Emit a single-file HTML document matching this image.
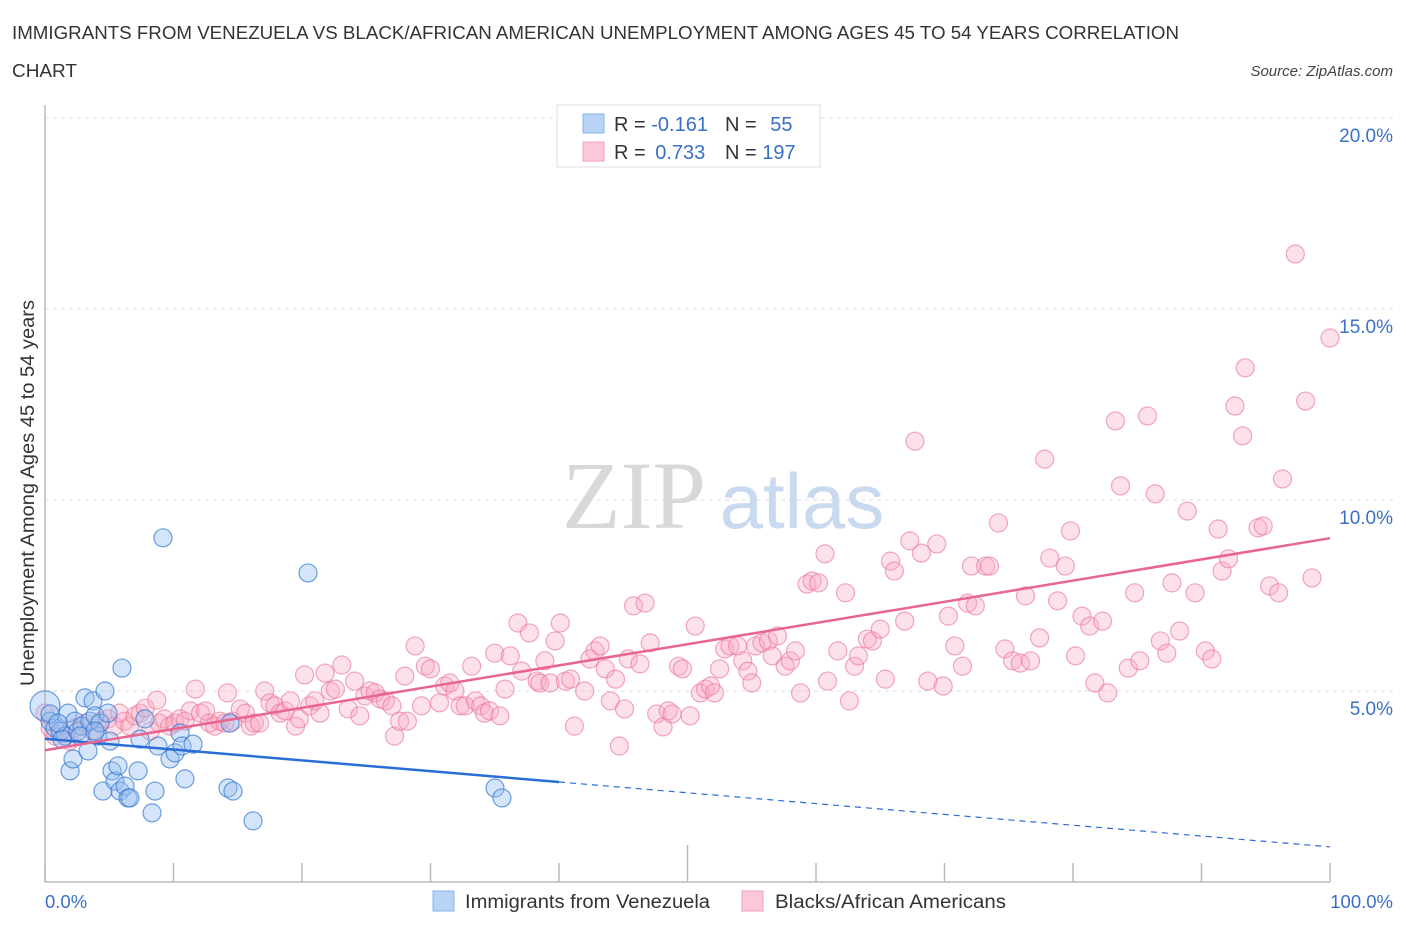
<!DOCTYPE html>
<html><head><meta charset="utf-8">
<style>
body{margin:0;background:#fff;font-family:"Liberation Sans",sans-serif;}
#wrap{position:relative;width:1406px;height:930px;overflow:hidden;}
</style></head>
<body>
<div id="wrap">
<svg id="chart" width="1406" height="930" xmlns="http://www.w3.org/2000/svg">
<text x="12" y="39" font-size="18" fill="#333" textLength="1167" lengthAdjust="spacingAndGlyphs">IMMIGRANTS FROM VENEZUELA VS BLACK/AFRICAN AMERICAN UNEMPLOYMENT AMONG AGES 45 TO 54 YEARS CORRELATION</text>
<text x="12" y="77" font-size="18" fill="#333" textLength="65" lengthAdjust="spacingAndGlyphs">CHART</text>
<text x="1393" y="76" font-size="15" fill="#444" font-style="italic" text-anchor="end">Source: ZipAtlas.com</text>
<g>
<text x="634" y="528" font-size="96" font-family="Liberation Serif,serif" fill="#d8d8d8" text-anchor="middle">ZIP</text>
<text x="802" y="528" font-size="78" fill="#c9daf0" text-anchor="middle">atlas</text>
</g>
<g id="grid"></g>
<g id="axes"></g>
<text transform="translate(34,493) rotate(-90)" font-size="19" fill="#333" text-anchor="middle" textLength="386" lengthAdjust="spacingAndGlyphs">Unemployment Among Ages 45 to 54 years</text>
<g id="pinkpts"></g>
<g id="bluepts"></g>
<g id="lines"></g>
<g>
<rect x="557" y="105" width="263" height="62" fill="#fff" stroke="#ddd"/>
<rect x="583" y="114" width="21" height="19" fill="#b8d4f5" stroke="#8ab4e8"/>
<rect x="583" y="142" width="21" height="19" fill="#fbc8d8" stroke="#f0a0b8"/>
<text x="614" y="131" font-size="20" fill="#333">R = <tspan fill="#3a6fc8">-0.161</tspan></text>
<text x="725" y="131" font-size="20" fill="#333">N = <tspan fill="#3a6fc8" dx="8">55</tspan></text>
<text x="614" y="159" font-size="20" fill="#333">R = <tspan fill="#3a6fc8" dx="4">0.733</tspan></text>
<text x="725" y="159" font-size="20" fill="#333">N = <tspan fill="#3a6fc8">197</tspan></text>
</g>
<g>
<rect x="433" y="891" width="21" height="20" fill="#b8d4f5" stroke="#8ab4e8"/>
<text x="465" y="908" font-size="19" fill="#333" textLength="245" lengthAdjust="spacingAndGlyphs">Immigrants from Venezuela</text>
<rect x="742" y="891" width="21" height="20" fill="#fbc8d8" stroke="#f0a0b8"/>
<text x="775" y="908" font-size="19" fill="#333" textLength="231" lengthAdjust="spacingAndGlyphs">Blacks/African Americans</text>
</g>
</svg>
</div>
<script>
const blueX=[0,0.39,0.78,1.17,1.56,1.79,1.95,2.18,2.33,2.57,2.88,3.11,3.35,3.5,3.74,3.89,4.12,4.28,4.51,4.67,4.9,5.06,5.21,5.45,5.68,5.84,5.99,6.23,6.46,6.61,7.24,7.39,7.78,8.33,8.56,8.79,9.18,9.73,10.12,10.51,10.66,10.89,11.52,14.24,14.4,14.63,16.19,20.47,35.02,35.56,0.39,1.32,2.72,3.89,1.01];
const blueY=[4.61,4.21,4.03,3.95,3.82,4.42,2.91,3.22,4.21,3.95,4.08,4.82,3.43,4.21,4.74,4.35,3.82,4.16,2.38,5.0,4.42,3.69,2.91,2.64,3.04,2.38,5.6,2.51,2.2,2.2,2.91,3.74,4.27,1.81,2.38,3.56,9.01,3.22,3.38,3.9,3.56,2.7,3.61,2.46,4.16,2.38,1.6,8.09,2.46,2.2,4.4,3.74,3.82,3.95,4.16];
const pinkX=[0,0.4,0.8,1.3,1.9,2.3,3.1,3.7,4.3,4.9,5.4,5.8,6.2,6.6,7,7.4,7.8,8.2,8.7,8.9,9.3,9.7,10.1,10.5,10.9,11.3,11.7,12.1,12.5,12.8,13.2,13.6,14,14.2,14.6,15.2,15.6,16,16.3,16.7,17.1,17.5,17.9,18.3,18.7,19.1,19.5,19.8,20.2,20.6,21,21.4,21.8,22.2,22.6,23.1,23.6,24.1,24.5,24.9,25.3,25.7,26.1,26.5,27,27.2,27.6,28,28.2,28.8,29.3,29.6,30,30.7,31.1,31.5,31.9,32.3,32.7,33.2,33.5,33.9,34.2,34.6,35,35.4,35.8,36.2,36.8,37.1,37.7,38.3,38.5,38.9,39.3,39.7,40.1,40.5,40.9,41.2,42,42.4,42.8,43.2,43.6,44,44.4,44.7,45.1,45.4,45.8,46.3,46.7,47.1,47.6,48.1,48.5,48.8,49.3,49.6,50.2,50.6,51,51.4,51.8,52.1,52.5,52.9,53.3,53.9,54.3,54.7,55,55.3,55.8,56.3,56.6,57,57.6,58,58.4,58.8,59.3,59.7,60.2,60.7,60.9,61.7,62.3,62.6,63,63.3,64,64.4,65,65.4,65.8,66.1,66.9,67.3,67.7,68.2,68.7,69.4,69.9,70.3,70.8,71.4,71.8,72.1,72.4,73.2,73.5,74.2,74.7,75.3,75.9,76.3,76.7,77.4,77.8,78.2,78.8,79.4,79.8,80.2,80.7,81.3,81.7,82.3,82.7,83.3,83.7,84.3,84.8,85.2,85.8,86.4,86.8,87.3,87.7,88.3,88.9,89.5,90.3,90.8,91.3,91.6,92.1,92.6,93.2,93.4,94.4,94.8,95.3,96,96.3,97.3,98.1,98.6,100];
const pinkY=[4.42,4.03,3.82,3.95,3.69,4.03,4.16,3.95,4.21,4.27,4.08,4.42,4.21,4.08,4.35,4.42,4.55,3.95,4.76,4.16,4.27,4.08,4.16,4.27,4.21,4.48,5.05,4.42,4.48,4.16,4.08,4.21,4.16,4.95,4.21,4.53,4.42,4.08,4.16,4.16,5.0,4.69,4.61,4.42,4.48,4.74,4.08,4.27,5.42,4.61,4.74,4.42,5.47,5.0,5.05,5.68,4.53,5.26,4.35,4.87,5.0,4.95,4.79,4.74,4.61,3.82,4.21,5.39,4.21,6.18,4.61,5.65,5.58,4.69,5.13,5.21,5.0,4.61,4.61,5.65,4.74,4.61,4.42,4.48,5.99,4.35,5.05,5.92,6.78,5.52,6.52,5.26,5.21,5.79,5.21,6.31,6.78,5.26,5.31,4.08,5.0,5.84,6.05,6.18,5.58,4.74,5.31,3.56,4.53,5.84,7.23,5.71,7.3,6.26,4.4,4.06,4.48,4.4,5.65,5.58,4.35,6.7,4.95,5.05,5.13,4.95,5.58,6.1,6.18,6.18,5.79,5.52,5.21,6.18,6.26,6.31,5.92,6.44,5.65,5.79,6.05,4.95,7.8,7.88,7.83,8.59,5.26,6.05,7.57,4.74,5.65,5.92,6.36,6.31,6.62,5.31,8.4,8.14,6.83,8.93,11.54,8.61,5.26,8.85,5.13,6.96,6.18,5.65,7.3,8.27,7.23,8.27,8.27,9.4,6.1,5.79,5.73,7.49,5.79,6.39,11.07,8.48,7.36,8.27,9.19,5.92,6.96,6.7,5.21,6.83,4.95,12.07,10.37,5.6,7.57,5.79,12.2,10.16,6.31,5.99,7.83,6.57,9.71,7.57,6.05,5.84,9.24,8.14,8.46,12.46,11.68,13.46,9.27,9.32,7.75,7.57,10.55,16.44,12.59,7.96,14.24];
const yTicks=[5,10,15,20];
const yTickLabels=["5.0%","10.0%","15.0%","20.0%"];
const xTicks=[0,10,20,30,40,50,60,70,80,90,100];
const xEndLabels=["0.0%","100.0%"];
const blueTrend=[3.75,0.92];
const blueSolidEnd=40;
const pinkTrend=[3.45,9.0];

const NS="http://www.w3.org/2000/svg";
const X0=45,X1=1330,Y0=882,YTOP=118;
const sx=v=>X0+(X1-X0)*v/100;
const sy=v=>Y0-(Y0-YTOP)*v/20;
function mk(tag,attrs,parent){const e=document.createElementNS(NS,tag);for(const k in attrs)e.setAttribute(k,attrs[k]);parent.appendChild(e);return e;}
const grid=document.getElementById('grid'),axes=document.getElementById('axes');
yTicks.forEach((t,i)=>{
  const l=mk('line',{x1:X0,x2:1393,y1:sy(t),y2:sy(t),stroke:'#ddd','stroke-dasharray':'4,4'},grid);
  
  
  const tx=mk('text',{x:1393,y:sy(t)+24,'font-size':19,fill:'#3a6fc8','text-anchor':'end'},axes);
  tx.textContent=yTickLabels[i];
  
  
});
const ax=mk('line',{x1:X0,x2:X1,y1:Y0,y2:Y0,stroke:'#bbb','stroke-width':1.5},axes);


const ay=mk('line',{x1:X0,x2:X0,y1:105,y2:Y0,stroke:'#bbb','stroke-width':1.5},axes);


xTicks.forEach(t=>{
  const tk=mk('line',{x1:sx(t),x2:sx(t),y1:t===50?845:863,y2:Y0,stroke:'#bbb','stroke-width':1.5},axes);
  
  
});
const l0=mk('text',{x:45,y:908,'font-size':18.5,fill:'#3a6fc8'},axes);l0.textContent=xEndLabels[0];


const l1=mk('text',{x:1393,y:908,'font-size':18.5,fill:'#3a6fc8','text-anchor':'end'},axes);l1.textContent=xEndLabels[1];



const pg=document.getElementById('pinkpts');
pinkX.forEach((x,i)=>{
  const c=mk('circle',{cx:sx(x),cy:sy(pinkY[i]),r:9,fill:'rgba(248,170,195,0.35)',stroke:'rgba(235,120,155,0.65)','stroke-width':1.2},pg);
  
  
});
const bg=document.getElementById('bluepts');
blueX.forEach((x,i)=>{
  const c=mk('circle',{cx:sx(x),cy:sy(blueY[i]),r:i===0?15:9,fill:'rgba(150,190,240,0.4)',stroke:'rgba(50,120,210,0.7)','stroke-width':1.2},bg);
  
  
});
const lg=document.getElementById('lines');
const bAt=v=>blueTrend[0]+(blueTrend[1]-blueTrend[0])*v/100;
const b1=mk('line',{x1:sx(0),y1:sy(bAt(0)),x2:sx(blueSolidEnd),y2:sy(bAt(blueSolidEnd)),stroke:'#2a6dd6','stroke-width':2.5},lg);


const b2=mk('line',{x1:sx(blueSolidEnd),y1:sy(bAt(blueSolidEnd)),x2:sx(100),y2:sy(bAt(100)),stroke:'#2a6dd6','stroke-width':1.2,'stroke-dasharray':'6,5'},lg);


const p1=mk('line',{x1:sx(0),y1:sy(pinkTrend[0]),x2:sx(100),y2:sy(pinkTrend[1]),stroke:'#e8658f','stroke-width':2.5},lg);


</script>
</body></html>
